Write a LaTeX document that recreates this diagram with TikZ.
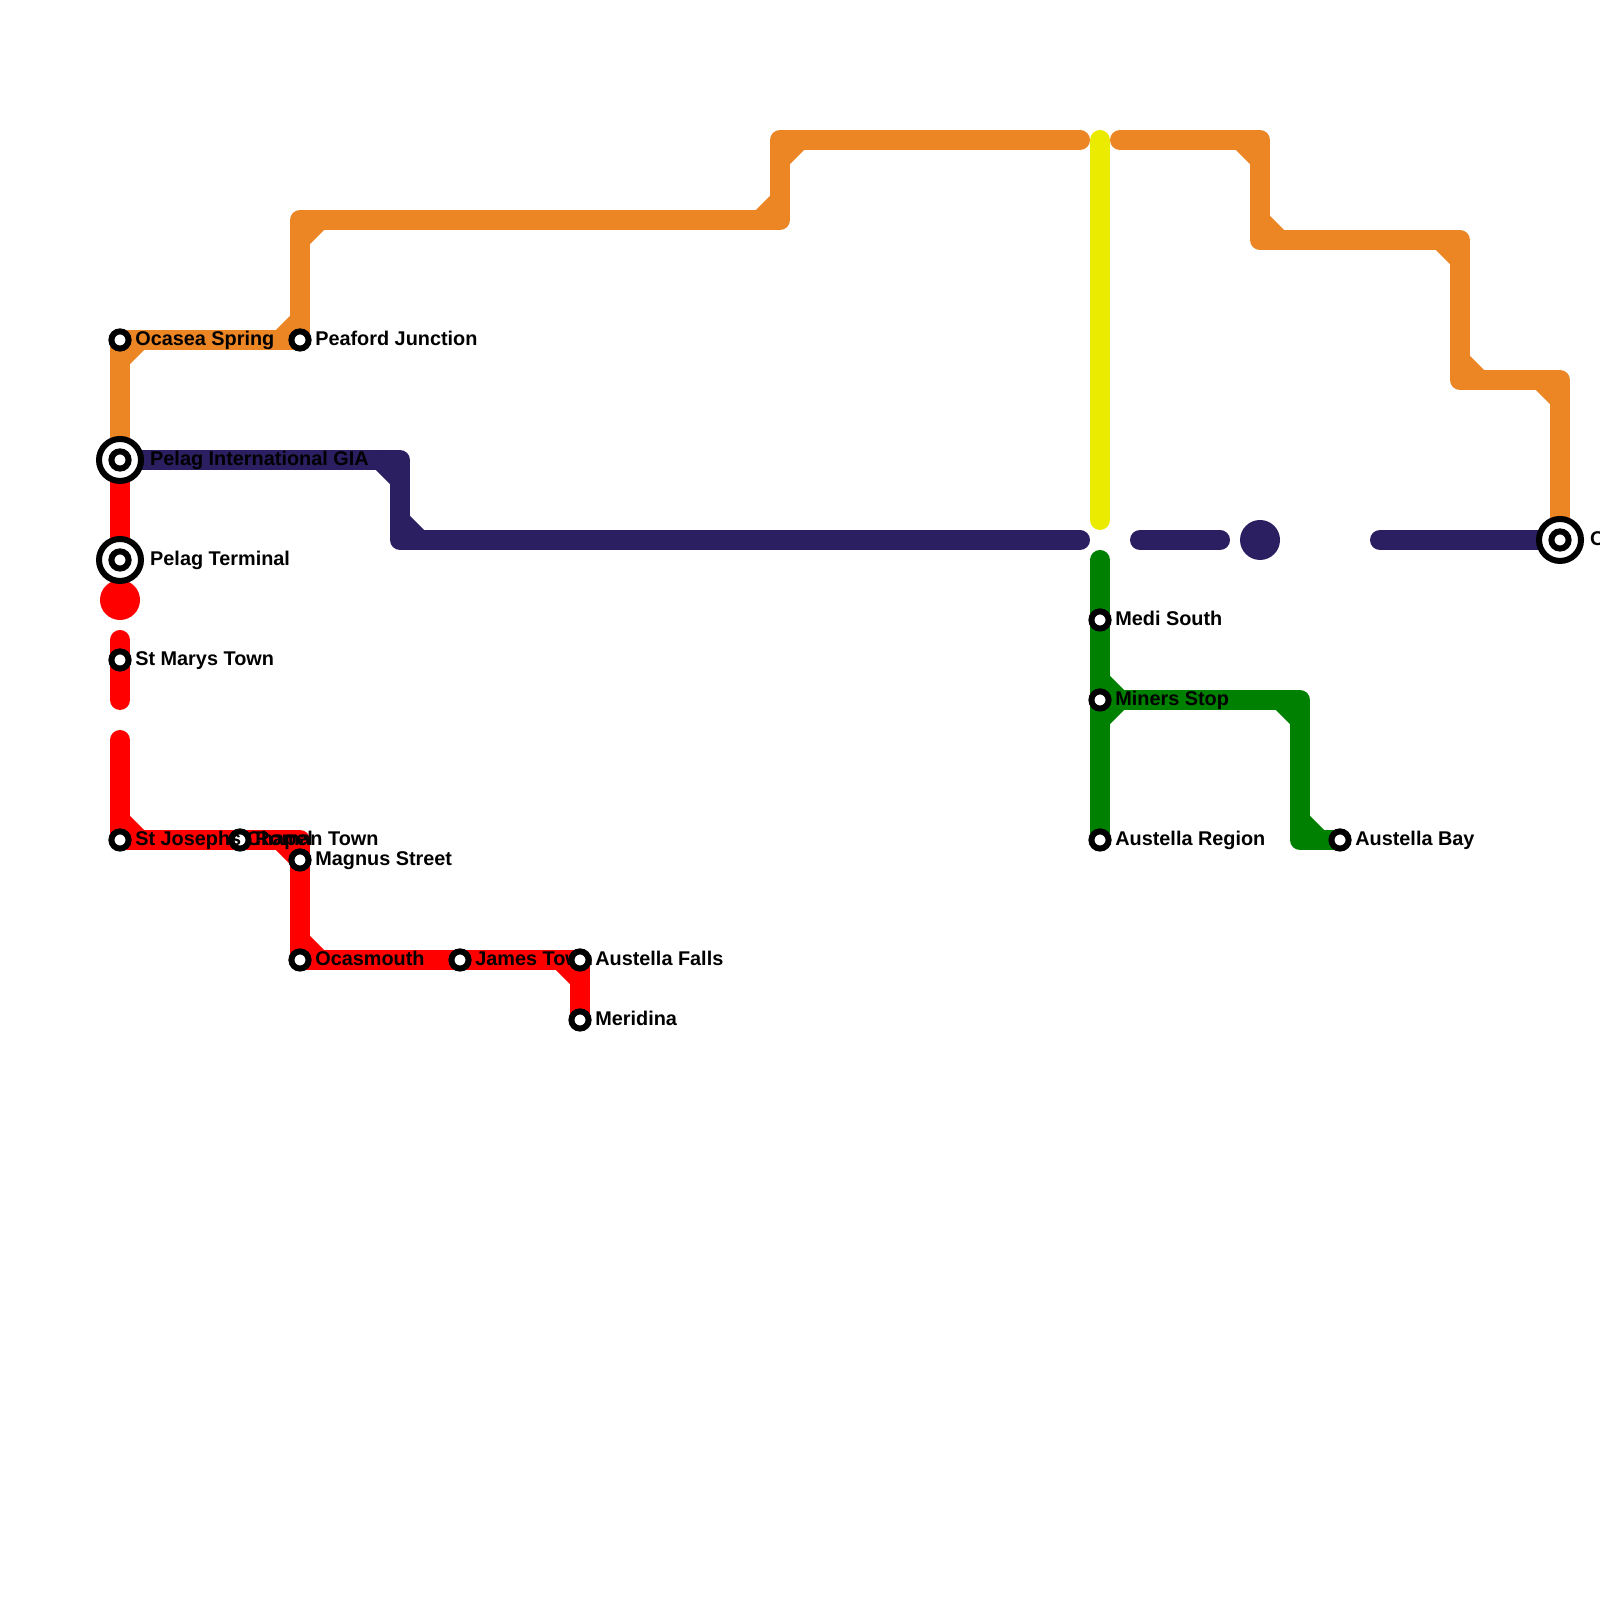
\documentclass[tikz,border=0pt]{standalone}
\usepackage{fontspec}
\setmainfont{Liberation Sans}
\usetikzlibrary{positioning, backgrounds}
\definecolor{lineorange}{RGB}{236,134,37}
\definecolor{linenavy}{RGB}{44,31,97}
\definecolor{linered}{RGB}{255,0,0}
\definecolor{linegreen}{RGB}{0,128,0}
\definecolor{lineyellow}{RGB}{235,235,0}
\tikzset{
  station/.style={circle, minimum size=0.172cm, inner sep=0pt, line width=0.06cm, draw=black, fill=white},
  hub/.style={circle, minimum size=0.42cm, inner sep=0pt, line width=0.06cm, draw=black, fill=white},
  bendpoint/.style={inner sep=0pt, outer sep=0pt, minimum size=0pt},
  stationlabel/.style={on grid=false, node distance=0.03cm, inner sep=0pt, yshift=0.02cm, text height=4.03pt, text depth=0pt, font=\bfseries\fontsize{5.65pt}{6.7pt}\selectfont},
  hublabel/.style={stationlabel, node distance=0.055cm},
  stopdot/.style={circle, minimum size=0.4cm, inner sep=0pt},
  metroline/.style={line width=0.2cm, line cap=round, line join=round}
}

\begin{document}
\begin{tikzpicture}[on grid]
        \useasboundingbox (0,0) rectangle (16,16);

        % === Orange line stations ===
        \node (ocasea) [station] at (1.2,12.6) {};
        \node (lblocasea) [stationlabel, right=of ocasea] {Ocasea Spring};
        \node (peaford) [station, right=1.8cm of ocasea] {};
        \node (lblpeaford) [stationlabel, right=of peaford] {Peaford Junction};

        % === Left column ===
        \node (pelagintl) [hub, below=1.2cm of ocasea] {};
        \node (pelagintlin) [station] at (pelagintl) {};
        \node (lblpelagintl) [hublabel, right=of pelagintl] {Pelag International GIA};
        \node (pelagterm) [hub, below=1.0cm of pelagintl] {};
        \node (pelagtermin) [station] at (pelagterm) {};
        \node (lblpelagterm) [hublabel, right=of pelagterm] {Pelag Terminal};
        \node (stmarys) [station, below=1.0cm of pelagterm] {};
        \node (lblstmarys) [stationlabel, right=of stmarys] {St Marys Town};
        \node (stjosephs) [station, below=1.8cm of stmarys] {};
        \node (roman) [station, right=1.2cm of stjosephs] {};
        \node (lblroman) [stationlabel, right=of roman] {Roman Town};
        \node (lblstjosephs) [stationlabel, right=of stjosephs] {St Josephs Chapel};

        % === Red line, lower part ===
        \node (redcornera) [bendpoint, right=1.8cm of stjosephs] {};
        \node (magnus) [station, below=0.2cm of redcornera] {};
        \node (lblmagnus) [stationlabel, right=of magnus] {Magnus Street};
        \node (ocasmouth) [station, below=1.0cm of magnus] {};
        \node (lblocasmouth) [stationlabel, right=of ocasmouth] {Ocasmouth};
        \node (james) [station, right=1.6cm of ocasmouth] {};
        \node (lbljames) [stationlabel, right=of james] {James Town};
        \node (austfalls) [station, right=1.2cm of james] {};
        \node (lblaustfalls) [stationlabel, right=of austfalls] {Austella Falls};
        \node (meridina) [station, below=0.6cm of austfalls] {};
        \node (lblmeridina) [stationlabel, right=of meridina] {Meridina};

        % === Orange line corners ===
        \node (orangea) [bendpoint, above=1.2cm of peaford] {};
        \node (orangeb) [bendpoint, right=4.8cm of orangea] {};
        \node (orangec) [bendpoint, above=0.8cm of orangeb] {};
        \node (yellowtop) [bendpoint, right=3.2cm of orangec] {};
        \node (orangestop) [bendpoint, left=0.2cm of yellowtop] {};
        \node (orangego) [bendpoint, right=0.2cm of yellowtop] {};
        \node (oranged) [bendpoint, right=1.6cm of yellowtop] {};
        \node (orangee) [bendpoint, below=1.0cm of oranged] {};
        \node (orangef) [bendpoint, right=2.0cm of orangee] {};
        \node (orangeg) [bendpoint, below=1.4cm of orangef] {};
        \node (orangeh) [bendpoint, right=1.0cm of orangeg] {};
        \node (ocean) [hub, below=1.6cm of orangeh] {};
        \node (oceanin) [station] at (ocean) {};
        \node (lblocean) [hublabel, right=of ocean] {O};

        % === Green line ===
        \node (yellowbot) [bendpoint, below=3.8cm of yellowtop] {};
        \node (greentop) [bendpoint, below=0.4cm of yellowbot] {};
        \node (medi) [station, below=0.6cm of greentop] {};
        \node (lblmedi) [stationlabel, right=of medi] {Medi South};
        \node (miners) [station, below=0.8cm of medi] {};
        \node (lblminers) [stationlabel, right=of miners] {Miners Stop};
        \node (austregion) [station, below=1.4cm of miners] {};
        \node (lblaustregion) [stationlabel, right=of austregion] {Austella Region};
        \node (greena) [bendpoint, right=2.0cm of miners] {};
        \node (greenb) [bendpoint, below=1.4cm of greena] {};
        \node (austbay) [station, right=0.4cm of greenb] {};
        \node (lblaustbay) [stationlabel, right=of austbay] {Austella Bay};

        % === Navy line corners ===
        \node (navya) [bendpoint, right=2.8cm of pelagintl] {};
        \node (navyb) [bendpoint, below=0.8cm of navya] {};
        \node (navystop) [bendpoint, right=6.8cm of navyb] {};
        \node (navygo) [bendpoint, right=0.6cm of navystop] {};
        \node (navyhalt) [bendpoint, right=0.8cm of navygo] {};
        \node (navyrun) [bendpoint, left=1.8cm of ocean] {};

        % === Red line gaps ===
        \node (redtop) [bendpoint, above=0.2cm of stmarys] {};
        \node (redhalt) [bendpoint, below=0.4cm of stmarys] {};
        \node (redgo) [bendpoint, below=0.8cm of stmarys] {};

        \begin{scope}[on background layer]
            \draw [metroline, lineorange] (pelagintl.center) -- (ocasea.center) -- (peaford.center) -- (orangea.center) -- (orangeb.center) -- (orangec.center) -- (orangestop.center);
            \draw [metroline, lineorange] (orangego.center) -- (oranged.center) -- (orangee.center) -- (orangef.center) -- (orangeg.center) -- (orangeh.center) -- (ocean.center);
            \draw [metroline, lineorange] (ocasea.center) ++(0,-0.2) -- ++(0.2,0.2);
            \draw [metroline, lineorange] (peaford.center) ++(-0.2,0) -- ++(0.2,0.2);
            \draw [metroline, lineorange] (orangea.center) ++(0,-0.2) -- ++(0.2,0.2);
            \draw [metroline, lineorange] (orangeb.center) ++(-0.2,0) -- ++(0.2,0.2);
            \draw [metroline, lineorange] (orangec.center) ++(0,-0.2) -- ++(0.2,0.2);
            \draw [metroline, lineorange] (oranged.center) ++(-0.2,0) -- ++(0.2,-0.2);
            \draw [metroline, lineorange] (orangee.center) ++(0,0.2) -- ++(0.2,-0.2);
            \draw [metroline, lineorange] (orangef.center) ++(-0.2,0) -- ++(0.2,-0.2);
            \draw [metroline, lineorange] (orangeg.center) ++(0,0.2) -- ++(0.2,-0.2);
            \draw [metroline, lineorange] (orangeh.center) ++(-0.2,0) -- ++(0.2,-0.2);

            \draw [metroline, lineyellow] (yellowtop.center) -- (yellowbot.center);

            \draw [metroline, linenavy] (pelagintl.center) -- (navya.center) -- (navyb.center) -- (navystop.center);
            \draw [metroline, linenavy] (navygo.center) -- (navyhalt.center);
            \draw [metroline, linenavy] (navyrun.center) -- (ocean.center);
            \draw [metroline, linenavy] (navya.center) ++(-0.2,0) -- ++(0.2,-0.2);
            \draw [metroline, linenavy] (navyb.center) ++(0,0.2) -- ++(0.2,-0.2);
            \node (navydot) [stopdot, fill=linenavy, right=0.4cm of navyhalt] {};

            \draw [metroline, linered] (pelagintl.center) -- (pelagterm.center);
            \node (reddot) [stopdot, fill=linered, below=0.4cm of pelagterm] {};
            \draw [metroline, linered] (redtop.center) -- (redhalt.center);
            \draw [metroline, linered] (redgo.center) -- (stjosephs.center) -- (redcornera.center) -- (magnus.center) -- (ocasmouth.center) -- (austfalls.center) -- (meridina.center);
            \draw [metroline, linered] (stjosephs.center) ++(0,0.2) -- ++(0.2,-0.2);
            \draw [metroline, linered] (redcornera.center) ++(-0.2,0) -- ++(0.2,-0.2);
            \draw [metroline, linered] (ocasmouth.center) ++(0,0.2) -- ++(0.2,-0.2);
            \draw [metroline, linered] (austfalls.center) ++(-0.2,0) -- ++(0.2,-0.2);

            \draw [metroline, linegreen] (greentop.center) -- (austregion.center);
            \draw [metroline, linegreen] (miners.center) -- (greena.center) -- (greenb.center) -- (austbay.center);
            \draw [metroline, linegreen] (miners.center) ++(0,0.2) -- ++(0.2,-0.2) -- ++(-0.2,-0.2);
            \draw [metroline, linegreen] (greena.center) ++(-0.2,0) -- ++(0.2,-0.2);
            \draw [metroline, linegreen] (greenb.center) ++(0,0.2) -- ++(0.2,-0.2);
        \end{scope}
\end{tikzpicture}
\end{document}
